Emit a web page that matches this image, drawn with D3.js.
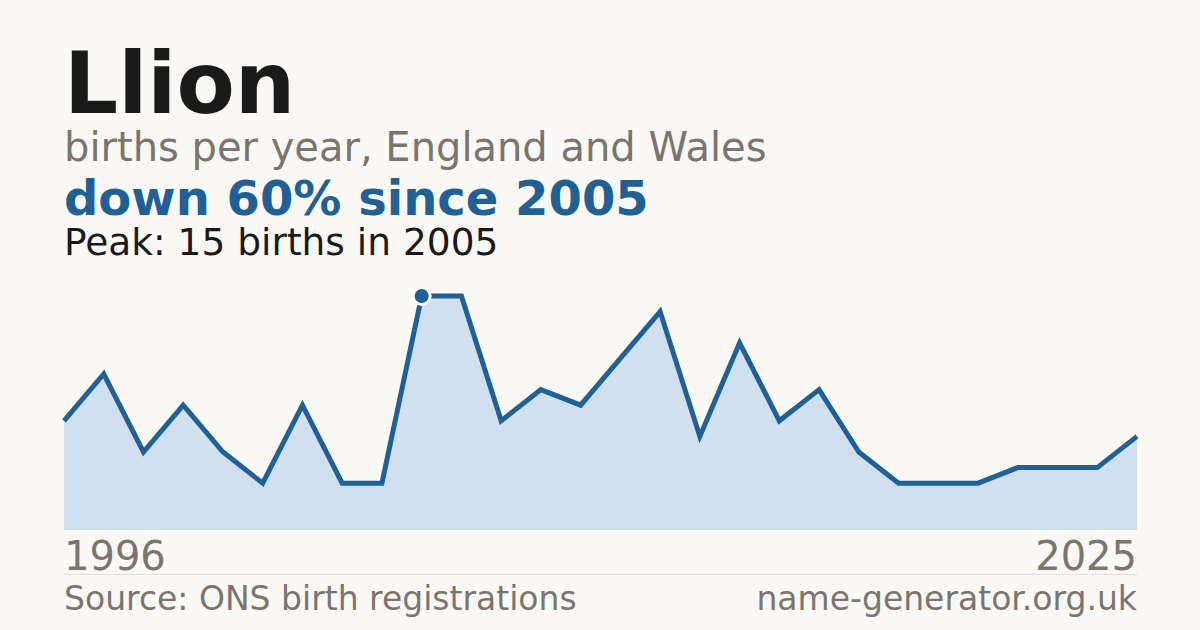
<!DOCTYPE html>
<html>
<head>
<meta charset="utf-8">
<script src="https://cdn.jsdelivr.net/npm/d3@7"></script>
<style>
  html, body { margin: 0; padding: 0; background: #faf9f5; }
  svg { display: block; font-family: "DejaVu Sans", sans-serif; }
</style>
</head>
<body>
<svg id="chart"></svg>
<script>
// births per year - years with too few births are not published
const years = ["1996","1997","1998","1999","2000","2001","2002","2003","2004","2005",
  "2006","2007","2008","2009","2010","2011","2012","2013","2014","2015",
  "2016","2017","2018","2019","2020","2023","2024","2025"];
const births = [7,10,5,8,5,3,8,3,3,15,15,7,9,8,11,14,6,12,7,9,5,3,3,3,4,4,4,6];
const peakYear = "2005";
const firstLabel = "1996", lastLabel = "2025";

const width = 1200, height = 630;
const margin = { left: 64, right: 63, top: 296, bottom: 100 };

const svg = d3.select("#chart").attr("width", width).attr("height", height);
svg.append("rect").attr("width", width).attr("height", height).attr("fill", "#faf9f5");

const x = d3.scalePoint()
  .domain(years)
  .range([margin.left, width - margin.right]);

const y = d3.scaleLinear()
  .domain([0, d3.max(births)])
  .range([height - margin.bottom, margin.top]);

const data = years.map((yr, i) => ({ year: yr, value: births[i] }));

// titles
svg.append("text").attr("x", 64).attr("y", 113)
  .attr("font-size", 85).attr("font-weight", "bold").attr("fill", "#1a1a1a")
  .text("Llion");
svg.append("text").attr("x", 64).attr("y", 161)
  .attr("font-size", 40).attr("fill", "#7a756e")
  .text("births per year, England and Wales");
svg.append("text").attr("x", 64).attr("y", 215)
  .attr("font-size", 48).attr("font-weight", "bold").attr("fill", "#1f6096")
  .text("down 60% since 2005");
svg.append("text").attr("x", 64).attr("y", 255)
  .attr("font-size", 37.5).attr("fill", "#1a1a1a")
  .text("Peak: 15 births in 2005");

// area + line
const area = d3.area()
  .x(d => x(d.year))
  .y0(y(0))
  .y1(d => y(d.value));

const line = d3.line()
  .x(d => x(d.year))
  .y(d => y(d.value));

svg.append("path").datum(data)
  .attr("d", area)
  .attr("fill", "#d0e0ef");

svg.append("path").datum(data)
  .attr("d", line)
  .attr("fill", "none")
  .attr("stroke", "#1f6096")
  .attr("stroke-width", 5);

const peak = data.find(d => d.year === peakYear);
svg.append("circle")
  .attr("cx", x(peak.year)).attr("cy", y(peak.value))
  .attr("r", 8.5)
  .attr("fill", "#1f6096")
  .attr("stroke", "#faf9f5")
  .attr("stroke-width", 3);

// x labels (first and last only)
svg.append("text").attr("x", x(firstLabel)).attr("y", 570)
  .attr("font-size", 40).attr("fill", "#7a756e")
  .text(firstLabel);
svg.append("text").attr("x", x(lastLabel)).attr("y", 570)
  .attr("font-size", 40).attr("fill", "#7a756e").attr("text-anchor", "end")
  .text(lastLabel);

// footer
svg.append("line")
  .attr("x1", 64).attr("x2", width - margin.right)
  .attr("y1", 574.5).attr("y2", 574.5)
  .attr("stroke", "#e2dfd8").attr("stroke-width", 1);

svg.append("text").attr("x", 64).attr("y", 610)
  .attr("font-size", 33).attr("fill", "#7a756e")
  .text("Source: ONS birth registrations");
svg.append("text").attr("x", width - margin.right).attr("y", 610)
  .attr("font-size", 33).attr("fill", "#7a756e").attr("text-anchor", "end")
  .text("name-generator.org.uk");
</script>
</body>
</html>
